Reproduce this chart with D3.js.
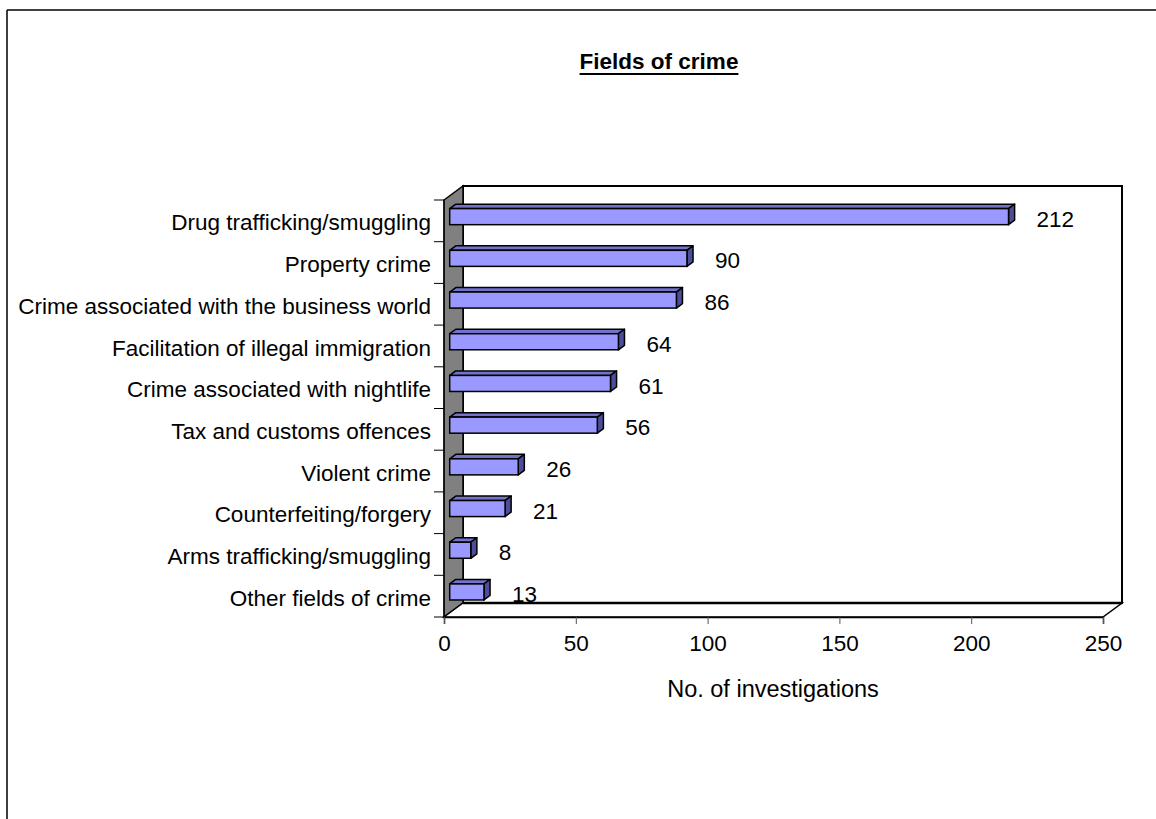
<!DOCTYPE html>
<html><head><meta charset="utf-8">
<script src="https://cdn.jsdelivr.net/npm/d3@7"></script>
<style>body{margin:0;background:#fff;} svg{display:block;} text{font-family:"Liberation Sans",Arial,sans-serif;fill:#000;}</style>
</head><body>
<svg id="chart" width="1156" height="819"></svg>
<script>
const categories = ["Drug trafficking/smuggling","Property crime","Crime associated with the business world","Facilitation of illegal immigration","Crime associated with nightlife","Tax and customs offences ","Violent crime","Counterfeiting/forgery","Arms trafficking/smuggling","Other fields of crime"];
const values = [212,90,86,64,61,56,26,21,8,13];
const xTicks = [0,50,100,150,200,250];
const titleText = "Fields of crime";
const xTitle = "No. of investigations";

const svg = d3.select("#chart");
const x = d3.scaleLinear().domain([0,250]).range([444,1103]);
const y = d3.scaleBand().domain(categories).range([200,617]);
const DX = 19, DY = -14;
const fa = 0.3, fb = 0.62; // bar depth fractions
const FS = 22.5;

// outer frame
svg.append("line").attr("x1",7).attr("y1",10).attr("x2",1156).attr("y2",10).attr("stroke","#000").attr("stroke-width",1.5);
svg.append("line").attr("x1",7).attr("y1",10).attr("x2",7).attr("y2",819).attr("stroke","#000").attr("stroke-width",1.5);

// title
const tcx = 659;
const t = svg.append("text").attr("x",tcx).attr("y",69).attr("text-anchor","middle")
  .attr("font-size",22.5).attr("font-weight","bold").text(titleText);
const tw = t.node().getComputedTextLength();
svg.append("line").attr("x1",tcx-tw/2).attr("x2",tcx+tw/2).attr("y1",74).attr("y2",74).attr("stroke","#000").attr("stroke-width",2);

const x0 = x(0), x1 = x(250), yT = y.range()[0], yB = y.range()[1];
// back wall
svg.append("rect").attr("x",x0+DX).attr("y",yT+DY).attr("width",x1-x0).attr("height",yB-yT)
  .attr("fill","#fff").attr("stroke","#000").attr("stroke-width",2);
// side wall
svg.append("polygon").attr("points",[[x0,yT],[x0+DX,yT+DY],[x0+DX,yB+DY],[x0,yB]].map(p=>p.join(",")).join(" "))
  .attr("fill","#808080").attr("stroke","#000").attr("stroke-width",1.5);
// floor
svg.append("polygon").attr("points",[[x0,yB],[x1,yB],[x1+DX,yB+DY],[x0+DX,yB+DY]].map(p=>p.join(",")).join(" "))
  .attr("fill","#fff").attr("stroke","#000").attr("stroke-width",1.5);
svg.append("line").attr("x1",x0+DX).attr("x2",x1+DX).attr("y1",yB+DY).attr("y2",yB+DY).attr("stroke","#000").attr("stroke-width",2.5);

// category axis ticks at band boundaries
const bounds = categories.map(c=>y(c)).concat([yB]);
svg.selectAll(".ctick").data(bounds).join("line")
  .attr("x1",x0-10).attr("x2",x0).attr("y1",d=>d).attr("y2",d=>d).attr("stroke","#000").attr("stroke-width",1);
svg.append("line").attr("x1",x0).attr("x2",x0).attr("y1",yT).attr("y2",yB).attr("stroke","#000").attr("stroke-width",1);

// category labels
svg.selectAll(".clab").data(categories).join("text")
  .attr("x",431).attr("y",d=>y(d)+y.bandwidth()/2+1.5).attr("dy","0.36em")
  .attr("text-anchor","end").attr("font-size",FS).text(d=>d);

// x axis
const xa = svg.append("g").attr("transform",`translate(0,${yB})`)
  .call(d3.axisBottom(x).tickValues(xTicks).tickSize(7).tickPadding(11).tickFormat(d3.format("d")));
xa.select(".domain").attr("stroke","#000").attr("stroke-width",1.5);
xa.selectAll(".tick line").attr("stroke","#555");
xa.selectAll("text").attr("font-size",FS).attr("font-family","Liberation Sans, Arial, sans-serif").attr("fill","#000");
svg.append("text").attr("x",773).attr("y",697).attr("text-anchor","middle").attr("font-size",23.5).text(xTitle);

// bars
const bh = y.bandwidth()*0.385;
const data = categories.map((c,i)=>({c, v:values[i]}));
const g = svg.append("g");
data.forEach(d=>{
  const cy = y(d.c)+y.bandwidth()/2;
  const ax = fa*DX, ay = fa*DY, bx = fb*DX, by = fb*DY;
  const L = x(0), R = x(d.v), T = cy-bh/2, B = cy+bh/2;
  const P = (px,py,ox,oy)=>[px+ox,py+oy];
  g.append("polygon").attr("points",[P(L,T,ax,ay),P(R,T,ax,ay),P(R,T,bx,by),P(L,T,bx,by)].map(p=>p.join(",")).join(" "))
    .attr("fill","#7373CC").attr("stroke","#000").attr("stroke-width",1.5).attr("stroke-linejoin","round");
  g.append("polygon").attr("points",[P(R,T,ax,ay),P(R,T,bx,by),P(R,B,bx,by),P(R,B,ax,ay)].map(p=>p.join(",")).join(" "))
    .attr("fill","#4D4D99").attr("stroke","#000").attr("stroke-width",1.5).attr("stroke-linejoin","round");
  g.append("rect").attr("x",L+ax).attr("y",T+ay).attr("width",R-L).attr("height",bh)
    .attr("fill","#9999FF").attr("stroke","#000").attr("stroke-width",1.5);
  g.append("text").attr("x",R+ax+28).attr("y",cy+ay+2).attr("dy","0.36em").attr("font-size",FS).text(d.v);
});
</script>
</body></html>
